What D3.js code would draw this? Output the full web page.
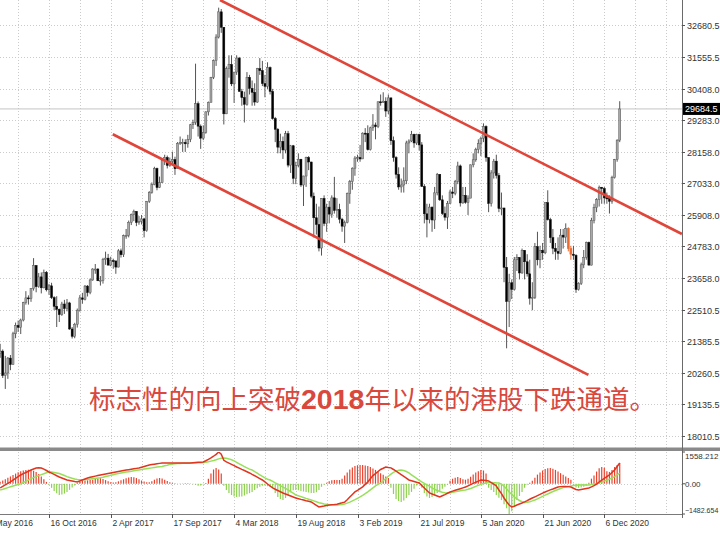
<!DOCTYPE html>
<html><head><meta charset="utf-8">
<script src="https://cdn.jsdelivr.net/npm/d3@7"></script>
<style>html,body{margin:0;padding:0;background:#fff;}svg{display:block;}</style>
</head><body>
<svg id="c" width="720" height="533"></svg>
<script>
// ---------- DATA (weekly bars, first bar = week of 5 Jun 2016) ----------
const firstWeek = "2016-06-05";
const open = [
20950,21040,20170,20260,20790,20560,21660,21960,21890,22150,
22770,22940,22910,23270,24100,23340,23690,23300,23850,23230,
23370,22950,22640,22530,22340,22720,22560,22760,21830,21570,
22000,22500,22940,22890,23360,23130,23580,23970,23970,23550,
23570,24310,24360,24110,24270,24260,24040,24620,24480,25160,
25170,25640,25920,26030,25630,25670,25760,25340,26390,26710,
26980,27560,26880,27050,27850,27950,27670,27810,27880,27550,
28460,28480,28490,28440,28600,29120,29200,29870,29070,28640,
28850,29580,29920,30810,31410,32250,33150,32600,29510,31120,
31270,30580,31000,31500,30310,30090,29850,30810,30420,30280,
29930,31120,31050,30590,30490,31160,30310,29340,28960,28320,
28530,28220,28800,27680,28370,27210,27670,27890,26970,27290,
27950,27790,26570,25800,25560,24720,26490,25600,26180,25930,
26510,26060,26090,25750,25500,25630,26670,27090,27570,27930,
27950,27900,28820,28810,28230,29010,29110,29050,29940,29910,
29960,29610,30080,28550,27950,27350,26900,26970,27120,28470,
28540,28780,28470,28770,28400,26920,25940,25730,26180,25720,
26690,27350,26440,25950,25820,26310,26720,26670,27100,27650,
26330,26600,26350,26500,27690,27870,28230,28450,28640,29060,
27950,26310,27400,27820,27310,26130,26150,24030,22810,23480,
23240,24300,24380,23830,24640,24230,23800,22930,22960,24770,
24300,24640,24550,26340,25730,25090,24710,24600,24530,25180,
25110,25420,24700,24500,24460,23240,23460,24120,24390,24920,
24110,25710,26160,26450,26890,26840,26510,26500,26390,27230,
27880,28570];
const high = [
21300,21100,20870,20830,20900,21730,22060,22130,22200,22800,
23180,23030,23290,24360,24100,23830,23850,23950,23900,23440,
23480,23000,23000,22560,22800,22870,22900,22800,21900,22050,
22560,23040,23120,23400,23400,23630,24000,24150,24000,23720,
24370,24590,24510,24410,24340,24260,24680,24700,25200,25400,
25700,25950,26090,26030,25860,25900,25800,26400,26750,27060,
27620,27590,27270,27880,28050,28020,27950,28160,27980,28500,
28700,28620,28600,28760,29150,29300,31300,29950,29130,29100,
29600,29950,30830,31450,32350,33300,33250,32600,31200,31600,
31600,31000,31600,31540,30400,30300,31000,30900,30700,30600,
31150,31500,31400,30900,31350,31200,30400,29400,29000,28800,
28700,28900,28900,28400,28400,27800,28100,27900,27300,27980,
28000,27800,26700,26300,26200,26500,26600,26300,26400,26600,
27260,26500,26300,25800,25700,26700,27150,27600,28000,28050,
28400,28850,29000,29100,29050,29500,29200,29950,30200,30280,
30100,30200,30080,28700,28000,27600,27200,27600,28550,28600,
28900,28800,28800,28800,28500,27000,26300,26300,26200,26900,
27400,27360,26600,26200,26400,26800,26900,27150,27800,27700,
26900,26900,26600,27700,28100,28300,28600,28700,29170,29100,
27950,27500,27900,28050,27400,26700,26150,24400,23800,23600,
24400,24500,24400,24700,24640,24500,24300,23500,24900,25300,
24800,24900,26350,26780,25800,25400,24900,25100,25400,25400,
25600,25460,24800,24800,24500,23500,24200,24650,24950,24950,
25800,26300,26500,26950,26900,26900,26700,26600,27300,27900,
28600,29960];
const low = [
20800,20080,19690,20050,20360,20560,21500,21720,21650,22100,
22700,22700,22800,23200,23140,23300,23100,23280,23170,23050,
22900,22500,21900,22080,22300,22370,22460,21800,21490,21500,
21880,22450,22730,22850,22990,23070,23550,23800,23550,23380,
23450,24120,24100,24070,23980,23800,24030,24380,24400,25050,
25100,25540,25680,25500,25550,25560,25100,25300,26330,26660,
26960,26780,26860,27040,27680,27560,27620,27700,27330,27550,
28400,28150,28150,28300,28500,28970,29120,28700,28260,28570,
28800,29450,29920,30750,31220,32200,32400,29130,29500,30800,
30500,29900,30900,30300,29800,29200,29800,30200,29800,29800,
29900,30900,30500,30100,30400,30200,29300,28500,28100,28100,
27900,28100,27600,27400,27000,27000,27600,26900,26220,26900,
27500,26500,25100,25200,24600,24450,25500,25300,25600,25800,
25950,25800,25600,25300,24900,25600,26300,26800,27300,27800,
27800,27900,28500,28200,28200,28900,28600,29000,29800,29900,
29400,29500,28400,27800,27200,26800,26700,26700,27000,28100,
28500,28300,28400,28200,26900,25600,25100,25600,25300,25400,
26600,26400,25900,25700,25400,26300,26500,26600,27000,26200,
26300,26300,25900,26500,27600,27800,28100,28000,28500,27800,
26000,26200,27200,27200,26000,25900,23500,21140,21900,22900,
23200,23900,23600,23800,23600,23700,22700,22500,22900,24100,
24000,24300,24500,25700,24900,24500,24300,24300,24500,24700,
24900,24600,24300,24300,23120,23200,23400,24000,24300,24100,
24100,25600,26000,26200,26300,26300,26300,25950,26300,27200,
27800,28500];
const close = [
21040,20170,20260,20790,20560,21660,21960,21890,22150,22770,
22940,22910,23270,24100,23340,23690,23300,23850,23230,23370,
22950,22640,22530,22340,22720,22560,22760,21830,21570,22000,
22500,22940,22890,23360,23130,23580,23970,23970,23550,23570,
24310,24360,24110,24270,24260,24040,24620,24480,25160,25170,
25640,25920,26030,25630,25670,25760,25340,26390,26710,26980,
27560,26880,27050,27850,27950,27670,27810,27880,27550,28460,
28480,28490,28440,28600,29120,29200,29870,29070,28640,28850,
29580,29920,30810,31410,32250,33150,32600,29510,31120,31270,
30580,31000,31500,30310,30090,29850,30810,30420,30280,29930,
31120,31050,30590,30490,31160,30310,29340,28960,28320,28530,
28220,28800,27680,28370,27210,27670,27890,26970,27290,27950,
27790,26570,25800,25560,24720,26490,25600,26180,25930,26510,
26060,26090,25750,25500,25630,26670,27090,27570,27930,27950,
27900,28820,28810,28230,29010,29110,29050,29940,29910,29960,
29610,30080,28550,27950,27350,26900,26970,27120,28470,28540,
28780,28470,28770,28400,26920,25940,25730,26180,25720,26690,
27350,26440,25950,25820,26310,26720,26670,27100,27650,26330,
26600,26350,26500,27690,27870,28230,28450,28640,29060,27950,
26310,27400,27820,27310,26130,26150,24030,22810,23480,23240,
24300,24380,23830,24640,24230,23800,22930,22960,24770,24300,
24640,24550,26340,25730,25090,24710,24600,24530,25180,25110,
25420,24700,24500,24460,23240,23460,24120,24390,24920,24110,
25710,26160,26450,26890,26840,26510,26500,26390,27230,27880,
28570,29684.5];
// MACD (red line), signal (green line), histogram
const macd = [
-206,-130,-55,15,88,175,260,345,432,495,
555,615,677,725,775,780,775,720,650,579,
520,460,395,334,285,235,186,160,135,110,
88,135,185,235,284,315,345,375,405,432,
455,480,505,530,555,580,605,628,650,670,
690,712,733,755,775,812,850,885,922,942,
962,982,1000,1020,1020,1020,1020,1020,1020,1020,
1020,1020,1020,1020,1020,1030,1040,1050,1060,1070,
1130,1195,1265,1350,1440,1558,1450,1150,1070,1010,
950,890,824,765,705,650,590,530,460,395,
325,255,186,90,-10,-110,-206,-270,-330,-390,
-451,-500,-550,-600,-650,-697,-730,-765,-795,-830,
-860,-893,-975,-1055,-1138,-1110,-1090,-1065,-1040,-1025,
-1015,-1000,-965,-935,-900,-780,-650,-525,-400,-320,
-235,-150,-30,90,245,400,500,600,700,760,
824,800,780,700,615,530,445,360,275,186,
150,115,75,39,-85,-210,-330,-451,-500,-550,
-600,-647,-590,-530,-465,-402,-360,-320,-280,-240,
-200,-157,-100,-40,20,75,130,186,170,155,
137,60,-20,-110,-304,-480,-697,-880,-1040,-1140,
-1100,-1040,-990,-942,-890,-830,-760,-697,-640,-580,
-520,-460,-402,-350,-300,-255,-205,-157,-140,-130,
-130,-140,-157,-220,-280,-304,-280,-255,-230,-206,
-150,-90,-20,88,175,260,345,432,555,677,
850,1020];
const signal = [
-304,-270,-230,-190,-150,-110,-75,-38,0,60,
120,185,250,300,350,400,450,495,540,580,
575,555,530,500,455,405,350,310,270,235,
210,200,200,205,215,230,245,262,280,300,
325,355,385,415,445,475,505,530,555,575,
595,615,640,660,680,700,720,740,760,780,
800,820,835,850,880,910,950,970,985,995,
1000,1005,1010,1012,1015,1017,1020,1025,1035,1045,
1060,1080,1110,1140,1175,1220,1255,1265,1250,1220,
1180,1120,1050,980,910,840,780,720,677,600,
520,440,360,290,225,186,115,45,-20,-90,
-160,-230,-300,-380,-460,-549,-590,-630,-670,-715,
-755,-795,-840,-885,-930,-960,-991,-1010,-1025,-1035,
-1040,-1040,-1030,-1015,-991,-950,-900,-840,-780,-715,
-647,-570,-485,-400,-300,-200,-100,-30,39,150,
260,370,470,560,620,660,677,650,600,530,
440,350,260,170,88,20,-50,-120,-206,-270,
-330,-380,-420,-440,-451,-440,-420,-395,-370,-345,
-320,-304,-270,-230,-180,-130,-80,-30,10,39,
60,60,55,45,39,-20,-120,-250,-400,-520,
-640,-740,-820,-880,-920,-910,-880,-840,-795,-740,
-680,-620,-560,-500,-440,-380,-330,-280,-230,-190,
-160,-130,-110,-90,-75,-65,-60,-59,-59,-59,
-40,-15,15,50,88,130,175,225,284,350,
430,530];
const histogram = [
100,160,220,290,360,430,500,560,610,650,
677,690,677,640,580,480,360,220,90,-50,
-200,-350,-470,-549,-530,-480,-400,-300,-180,-80,
40,100,140,160,170,180,200,230,260,280,
240,180,120,80,60,80,120,170,220,270,
310,330,320,280,220,160,110,80,70,120,
200,260,284,260,200,140,80,40,20,10,
10,10,20,20,10,-20,-60,-100,-80,-40,
40,250,500,700,775,700,500,-100,-300,-450,
-550,-620,-650,-640,-620,-580,-520,-460,-400,-300,
-220,-150,-100,-80,-120,-160,-200,-450,-650,-750,
-795,-700,-550,-420,-320,-300,-320,-350,-380,-400,
-430,-450,-450,-420,-300,-150,-50,50,120,170,
186,190,186,250,400,550,700,800,870,910,
922,915,900,870,820,750,680,600,520,440,
360,280,-200,-500,-750,-850,-893,-820,-700,-550,
-400,-250,-80,20,-200,-450,-620,-697,-650,-550,
-450,-350,-250,-150,-60,150,250,300,330,280,
220,200,250,350,450,550,620,677,650,500,
-200,-300,-400,-550,-686,-800,-1000,-1200,-1482,-1350,
-1100,-800,-600,-400,-200,-50,50,150,300,450,
550,650,720,760,775,740,680,600,520,440,
360,280,200,-100,-180,-200,-180,-150,-100,50,
250,400,600,760,824,780,620,580,680,820,
920,1020];
const highlightBars = [221, 222];
const priceTicks = [32680.5,31555.5,30408.0,29283.0,28158.0,27033.0,25908.0,24783.0,23658.0,22510.5,21385.5,20260.5,19135.5,18010.5];
const macdTicks = [1558.212, 0, -1482.654];
const dateLabels = ["1 May 2016","16 Oct 2016","2 Apr 2017","17 Sep 2017","4 Mar 2018","19 Aug 2018","3 Feb 2019","21 Jul 2019","5 Jan 2020","21 Jun 2020","6 Dec 2020"];
const lastPrice = 29684.5;
// channel lines: [bar position, price]
const upperChannel = [[85.5, 33573], [265.2, 25221]];
const lowerChannel = [[43.8, 28780], [228.8, 20190]];
const annotationParts = ["标志性的向上突破", "2018", "年以来的港股下跌通道。"];

// ---------- LAYOUT ----------
const svg = d3.select("#c");
const plotR = 682, mainB = 448, macdT = 452, macdB = 514;
const x = d3.scaleLinear().domain([19, 235]).range([49, 604.3]);
const y = d3.scaleLinear().domain([18010.5, 32680.5]).range([436, 25]);
const ym = d3.scaleLinear().domain([-1482.654, 1558.212]).range([macdB, macdT]);
const start = d3.timeParse("%Y-%m-%d")(firstWeek);
const parseLbl = d3.timeParse("%d %b %Y");
const barOf = d => Math.round((d - start) / (7 * 864e5));
const font = "Liberation Sans, Arial, sans-serif";
const idx = d3.range(close.length);

svg.append("defs").append("clipPath").attr("id","mainClip")
  .append("rect").attr("x",0).attr("y",0).attr("width",plotR).attr("height",mainB);
svg.select("defs").append("clipPath").attr("id","macdClip")
  .append("rect").attr("x",0).attr("y",macdT).attr("width",plotR).attr("height",macdB-macdT);

// grid
const grid = svg.append("g").attr("stroke","#cbcbcb").attr("stroke-dasharray","1,2").attr("stroke-width",1);
const gridBars = d3.range(7, 270, 12).filter(b => x(b) > 0 && x(b) < plotR);
gridBars.forEach(b => {
  const gx = Math.round(x(b)) + 0.5;
  grid.append("line").attr("x1",gx).attr("x2",gx).attr("y1",0).attr("y2",mainB);
  grid.append("line").attr("x1",gx).attr("x2",gx).attr("y1",macdT).attr("y2",macdB);
});
priceTicks.forEach(t => {
  const gy = Math.round(y(t)) + 0.5;
  grid.append("line").attr("x1",0).attr("x2",plotR).attr("y1",gy).attr("y2",gy);
});
grid.append("line").attr("x1",0).attr("x2",plotR).attr("y1",Math.round(ym(0))+0.5).attr("y2",Math.round(ym(0))+0.5);

// last price line
svg.append("line").attr("x1",0).attr("x2",plotR).attr("y1",y(lastPrice)).attr("y2",y(lastPrice))
  .attr("stroke","#c4c4c4").attr("stroke-width",1);

// candles
const cg = svg.append("g").attr("clip-path","url(#mainClip)");
idx.forEach(i => {
  const cx = x(i);
  const hl = highlightBars.includes(i);
  const bull = close[i] >= open[i];
  const col = hl ? "#ec6a2c" : (bull ? "#555" : "#111");
  cg.append("line").attr("x1",cx).attr("x2",cx).attr("y1",y(high[i])).attr("y2",y(low[i]))
    .attr("stroke", hl ? "#ec6a2c" : "#555").attr("stroke-width",1);
  const top = y(Math.max(open[i], close[i])), bot = y(Math.min(open[i], close[i]));
  cg.append("rect").attr("x",cx-1).attr("width",2).attr("y",top).attr("height",Math.max(1,bot-top))
    .attr("fill", hl ? "#ec6a2c" : (bull ? "#a8a8a8" : "#000")).attr("stroke",col).attr("stroke-width",0.5);
});

// channel lines
const chLine = d3.line().x(d => x(d[0])).y(d => y(d[1]));
[upperChannel, lowerChannel].forEach(c => {
  cg.append("path").attr("d", chLine(c)).attr("fill","none").attr("stroke","#e0453a").attr("stroke-width",2.6);
});

// annotation
const ann = svg.append("text").attr("x",89).attr("y",409).attr("fill","#d9473d")
  .attr("font-family","Noto Sans CJK SC, sans-serif").attr("font-size",26.5);
ann.append("tspan").text(annotationParts[0]);
ann.append("tspan").attr("font-family","Liberation Sans, Arial, sans-serif").attr("font-weight","bold").attr("font-size",28.5).text(annotationParts[1]);
ann.append("tspan").text(annotationParts[2]);

// MACD panel
const mg = svg.append("g").attr("clip-path","url(#macdClip)");
idx.forEach(i => {
  const v = histogram[i];
  mg.append("line").attr("x1",x(i)).attr("x2",x(i)).attr("y1",ym(0)).attr("y2",ym(v))
    .attr("stroke", v >= 0 ? "#e8432f" : "#8fd24f").attr("stroke-width",1.2);
});
const ml = d3.line().x((d,i) => x(i)).y(d => ym(d));
mg.append("path").attr("d", ml(signal)).attr("fill","none").attr("stroke","#98e05a").attr("stroke-width",1.5);
mg.append("path").attr("d", ml(macd)).attr("fill","none").attr("stroke","#e0341f").attr("stroke-width",1.5);

// frames
svg.append("rect").attr("x",0).attr("y",447.5).attr("width",720).attr("height",3.5).attr("fill","#8a8a8a");
svg.append("line").attr("x1",0).attr("x2",plotR).attr("y1",macdB+0.5).attr("y2",macdB+0.5).attr("stroke","#7a7a7a");
svg.append("line").attr("x1",plotR+0.5).attr("x2",plotR+0.5).attr("y1",0).attr("y2",macdB+4).attr("stroke","#6a6a6a");

// right price axis
const ax = svg.append("g").attr("font-family",font).attr("font-size",9).attr("fill","#333");
priceTicks.forEach(t => {
  const ty = Math.round(y(t)) + 0.5;
  ax.append("line").attr("x1",plotR).attr("x2",plotR+3).attr("y1",ty).attr("y2",ty).attr("stroke","#555");
  ax.append("text").attr("x",687).attr("y",ty+3.2).text(d3.format(".1f")(t));
});
const ly = y(lastPrice);
svg.append("rect").attr("x",683).attr("y",ly-6).attr("width",37).attr("height",12).attr("fill","#000");
svg.append("text").attr("x",685).attr("y",ly+3.2).attr("font-family",font).attr("font-size",9)
  .attr("fill","#fff").text(d3.format(".1f")(lastPrice));

// MACD axis
macdTicks.forEach(t => {
  const ty = Math.min(Math.max(ym(t), macdT + 3.5), macdB - 4);
  ax.append("line").attr("x1",plotR).attr("x2",plotR+3).attr("y1",ym(t)).attr("y2",ym(t)).attr("stroke","#555");
  const lbl = t === 0 ? "0.00" : d3.format(".3f")(t);
  ax.append("text").attr("x",685).attr("y",ty+3).attr("font-size", lbl.length > 8 ? 7 : 8).text(lbl);
});

// date axis
dateLabels.forEach(s => {
  const bx = Math.round(x(barOf(parseLbl(s)))) + 0.5;
  ax.append("line").attr("x1",bx).attr("x2",bx).attr("y1",macdB).attr("y2",macdB+4).attr("stroke","#555");
  ax.append("text").attr("x",bx+1).attr("y",526).attr("font-size",8.5).text(s);
});
</script>
</body></html>
